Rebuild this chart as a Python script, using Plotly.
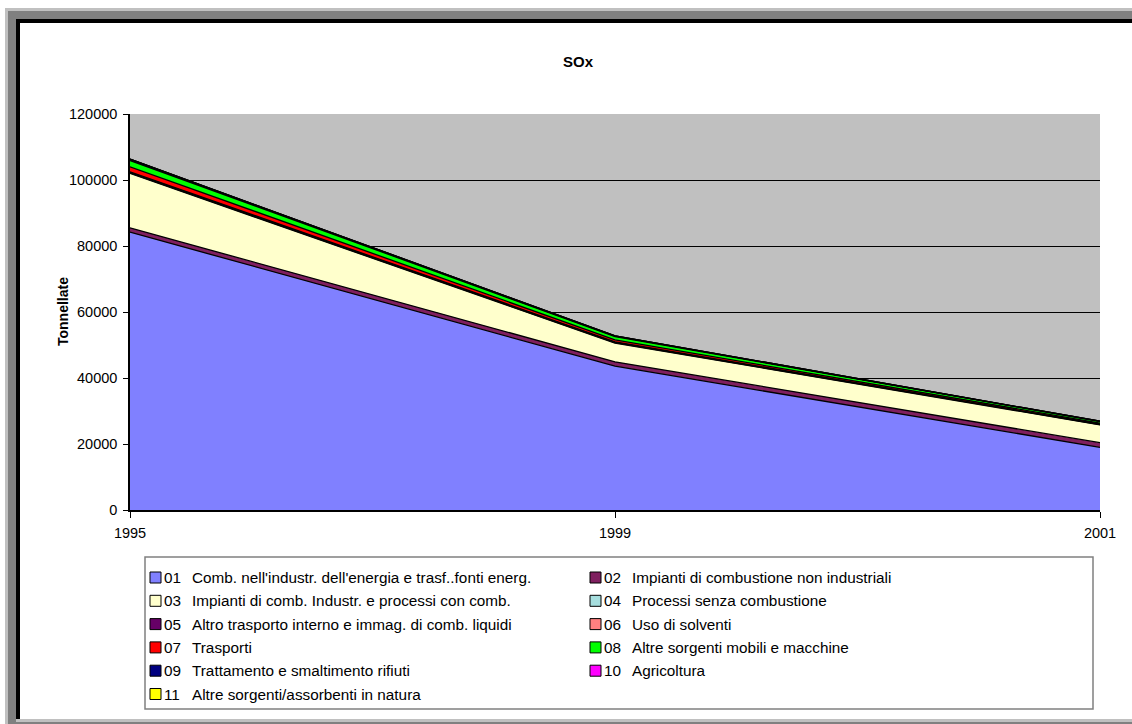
import plotly.graph_objects as go

# Emission years (category axis) and SOx emissions per macrosector, in tonnes
years = ["1995", "1999", "2001"]

codes = ["01", "02", "03", "04", "05", "06", "07", "08", "09", "10", "11"]
names = [
    "Comb. nell'industr. dell'energia e trasf..fonti energ.",
    "Impianti di combustione non industriali",
    "Impianti di comb. Industr. e processi con comb.",
    "Processi senza combustione",
    "Altro trasporto interno e immag. di comb. liquidi",
    "Uso di solventi",
    "Trasporti",
    "Altre sorgenti mobili e macchine",
    "Trattamento e smaltimento rifiuti",
    "Agricoltura",
    "Altre sorgenti/assorbenti in natura",
]

s01 = [84200, 43600, 19000]
s02 = [1300, 1300, 1400]
s03 = [16500, 5700, 5400]
s04 = [150, 100, 100]
s05 = [350, 250, 150]
s06 = [0, 0, 0]
s07 = [1500, 600, 300]
s08 = [1900, 1000, 450]
s09 = [400, 200, 100]
s10 = [0, 0, 0]
s11 = [0, 0, 0]
series = [s01, s02, s03, s04, s05, s06, s07, s08, s09, s10, s11]

colors = ["#8080FF", "#7F1F5F", "#FFFFCC", "#A6DEDE", "#660066", "#FF8080",
          "#FF0000", "#00FF00", "#000080", "#FF00FF", "#FFFF00"]

FONT = "Liberation Sans, Arial, sans-serif"

fig = go.Figure()
for code, name, vals, col in zip(codes, names, series, colors):
    fig.add_trace(go.Scatter(
        x=years, y=vals, name=f"{code} {name}",
        mode="lines", stackgroup="sox",
        line=dict(color="black", width=1.3),
        fillcolor=col, showlegend=False,
        hovertemplate="%{y}<extra>" + code + "</extra>",
    ))

# Plot-area geometry in pixels (used to place decorations in paper coords)
W, H = 1132, 724
L, R, T, B = 130, 1100, 114, 510
PW, PH = R - L, B - T


def px(xp):
    return (xp - L) / PW


def py(yp):
    return (B - yp) / PH


shapes = []
# window frame bands
frame = [
    (5, 8, 8, H, "#C0C0C0"),
    (5, 8, W, 11, "#C0C0C0"),
    (8, 11, 16, H, "#808080"),
    (8, 11, W, 19, "#808080"),
    (16, 19, 20, 719, "#000000"),
    (16, 19, W, 23, "#000000"),
    (16, 719, W, 722, "#C0C0C0"),
    (16, 722, W, H, "#808080"),
]
for x0, y0, x1, y1, c in frame:
    shapes.append(dict(type="rect", xref="paper", yref="paper",
                       x0=px(x0), x1=px(x1), y0=py(y1), y1=py(y0),
                       fillcolor=c, line=dict(width=0), layer="below"))

# legend box
lg_l, lg_r, lg_t, lg_b = 145, 1093, 557, 709
shapes.append(dict(type="rect", xref="paper", yref="paper",
                   x0=px(lg_l), x1=px(lg_r), y0=py(lg_b), y1=py(lg_t),
                   fillcolor="white", line=dict(color="#808080", width=1.5)))

annotations = []
row0, row_step = 577.5, 23.3
col_x = [150, 590]
for i, (code, name, col) in enumerate(zip(codes, names, colors)):
    r, c = divmod(i, 2)
    yc = row0 + r * row_step
    x0 = col_x[c]
    shapes.append(dict(type="rect", xref="paper", yref="paper",
                       x0=px(x0), x1=px(x0 + 11), y0=py(yc + 5.5), y1=py(yc - 5.5),
                       fillcolor=col, line=dict(color="black", width=1)))
    annotations.append(dict(xref="paper", yref="paper", x=px(x0 + 12), y=py(yc),
                            text=code, showarrow=False, xanchor="left", yanchor="middle",
                            font=dict(size=15.3, color="black", family=FONT)))
    annotations.append(dict(xref="paper", yref="paper", x=px(x0 + 40), y=py(yc),
                            text=name, showarrow=False, xanchor="left", yanchor="middle",
                            font=dict(size=15.3, color="black", family=FONT)))

# y-axis title
annotations.append(dict(xref="paper", yref="paper", x=px(63), y=py(312),
                        text="<b>Tonnellate</b>", textangle=-90, showarrow=False,
                        xanchor="center", yanchor="middle",
                        font=dict(size=14, color="black", family=FONT)))

fig.update_layout(
    width=W, height=H,
    margin=dict(l=L, r=W - R, t=T, b=H - B),
    paper_bgcolor="white", plot_bgcolor="#C0C0C0",
    font=dict(family=FONT, size=14.5, color="black"),
    title=dict(text="<b>SOx</b>", x=578 / W, y=1 - 62 / H, xanchor="center",
               yanchor="middle", font=dict(size=15, family=FONT)),
    xaxis=dict(type="category", range=[0, 2], showgrid=False,
               showline=True, linecolor="black", linewidth=1.5,
               ticks="outside", ticklen=6, tickcolor="black",
               ticklabelstandoff=3,
               tickfont=dict(size=14.5), zeroline=False),
    yaxis=dict(range=[0, 120000], dtick=20000, tickformat="d",
               showgrid=True, gridcolor="black", gridwidth=1,
               showline=True, linecolor="black", linewidth=1.5,
               ticks="outside", ticklen=5, tickcolor="black",
               ticklabelstandoff=3,
               tickfont=dict(size=14.5), zeroline=False),
    shapes=shapes, annotations=annotations,
    showlegend=False,
)

fig.write_html("out.html")
